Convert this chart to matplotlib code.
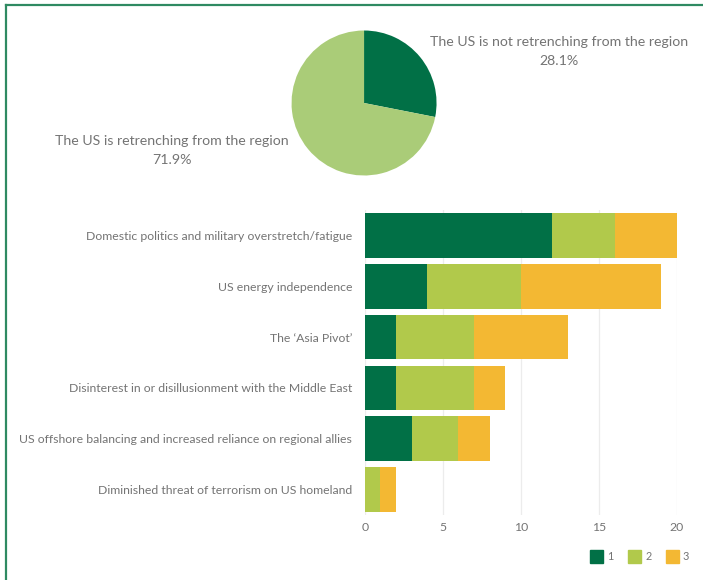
import numpy as np
import matplotlib.pyplot as plt
from matplotlib.patches import Patch
from matplotlib.lines import Line2D

plt.rcParams["font.family"] = ["Lato", "DejaVu Sans"]

# pie: is the US retrenching?
pie_labels = ["The US is not retrenching from the region", "The US is retrenching from the region"]
pie_values = [28.1, 71.9]

# stacked bars: reasons, ranked 1-3
reasons = [
    "Domestic politics and military overstretch/fatigue",
    "US energy independence",
    "The \u2018Asia Pivot\u2019",
    "Disinterest in or disillusionment with the Middle East",
    "US offshore balancing and increased reliance on regional allies",
    "Diminished threat of terrorism on US homeland",
]
rank1 = [12, 4, 2, 2, 3, 0]
rank2 = [4, 6, 5, 5, 3, 1]
rank3 = [4, 9, 6, 2, 2, 1]
series_names = ["1", "2", "3"]

dark = "#017046"
pie_light = "#aacc78"
bar_colors = ["#017046", "#b1c94b", "#f3b833"]
text_gray = "#747474"

fig = plt.figure(figsize=(7.03, 5.8), dpi=100)

# frame lines along the top and left
fig.add_artist(Line2D([0.008, 1.0], [0.991, 0.991], color="#2f8a62", lw=1.6))
fig.add_artist(Line2D([0.008, 0.008], [0.0, 0.991], color="#2f8a62", lw=1.6))

# pie
pax = fig.add_axes([0.4147, 0.6974, 0.2063, 0.25])
pax.pie(pie_values, colors=[dark, pie_light], startangle=90, counterclock=False)
pax.set_xlim(-1, 1)
pax.set_ylim(-1, 1)
pax.set_aspect("equal")
fig.text(0.795, 0.911, f"{pie_labels[0]}\n{pie_values[0]}%", ha="center", va="center",
         color=text_gray, fontsize=10.2, linespacing=1.7)
fig.text(0.245, 0.741, f"{pie_labels[1]}\n{pie_values[1]}%", ha="center", va="center",
         color=text_gray, fontsize=10.2, linespacing=1.7)

# stacked horizontal bars
ax = fig.add_axes([0.519, 0.112, 0.444, 0.526])
y = np.arange(len(reasons))
left = np.zeros(len(reasons))
for vals, col in zip([rank1, rank2, rank3], bar_colors):
    ax.barh(y, vals, left=left, height=0.88, color=col, zorder=3)
    left += np.array(vals)

ax.set_yticks(y)
ax.set_yticklabels(reasons)
ax.set_ylim(len(reasons) - 0.5, -0.5)
ax.set_xlim(0, 20)
ax.set_xticks([0, 5, 10, 15, 20])
ax.grid(axis="x", color="#ececec", lw=0.9, zorder=0)
for s in ax.spines.values():
    s.set_visible(False)
ax.tick_params(axis="both", length=0, colors=text_gray, labelsize=8.8)
ax.tick_params(axis="y", pad=9)
ax.tick_params(axis="x", pad=5)

handles = [Patch(facecolor=c, edgecolor=c) for c in bar_colors]
fig.legend(handles, series_names, loc="center", bbox_to_anchor=(0.91, 0.04), ncol=3,
           frameon=False, fontsize=7.8, handlelength=1.2, handleheight=1.5,
           handletextpad=0.4, columnspacing=1.3, labelcolor=text_gray)

fig.savefig("out.png", dpi=100, facecolor="white")
